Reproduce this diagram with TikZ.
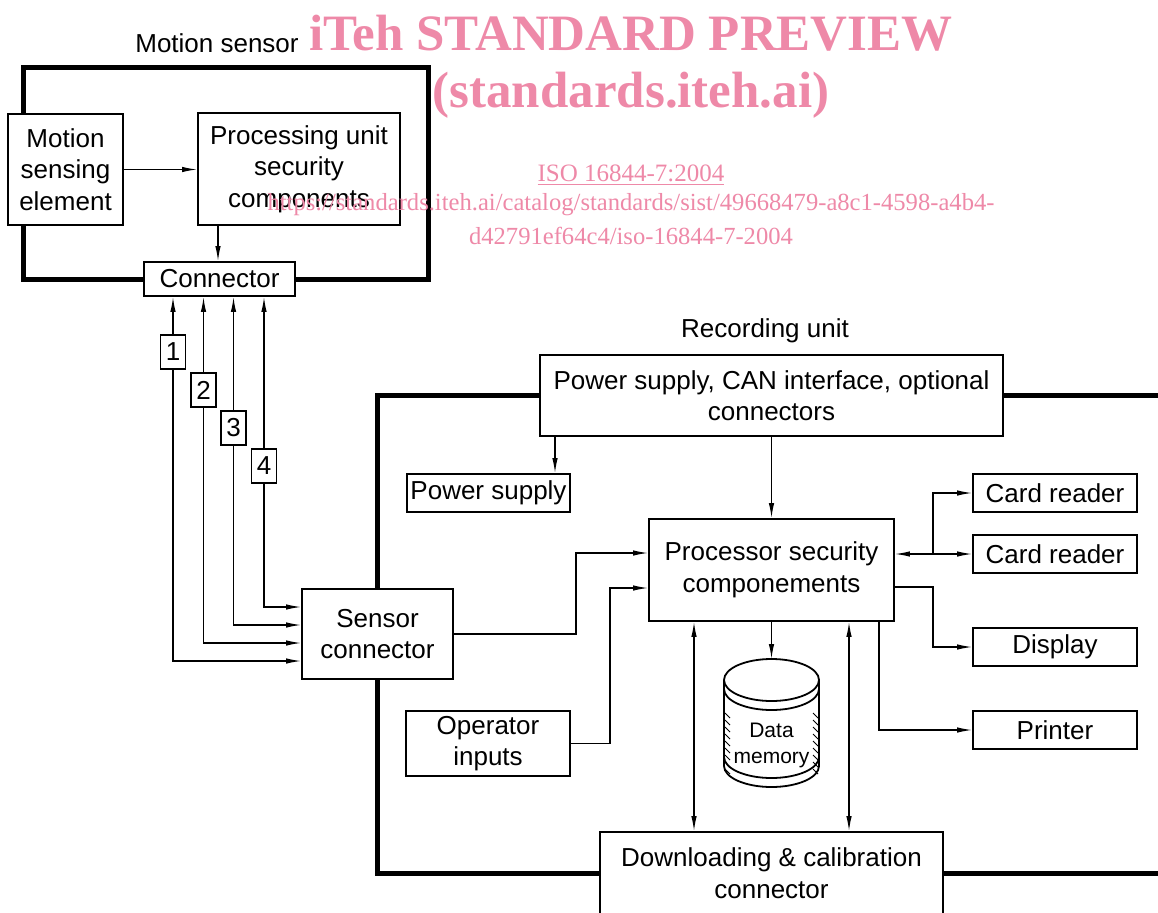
\documentclass[tikz,border=0pt]{standalone}
\usepackage{fontspec}
\setmainfont{Liberation Sans}
\newfontfamily\wmfont{Liberation Serif}
\usetikzlibrary{arrows.meta,calc}
\definecolor{wmpink}{RGB}{238,137,168}
\begin{document}
\begin{tikzpicture}[x=1pt,y=-1pt,
  lbl/.style={font=\fontsize{26}{31.5}\selectfont, align=center},
  blk/.style={lbl, draw, line width=1.8pt, inner sep=0pt, fill=white},
  numbox/.style={blk, minimum width=25pt, minimum height=34pt},
  wire/.style={line width=1.3pt},
  arr/.style={wire, -{Latex[length=15pt,width=5.5pt]}},
  arrs/.style={wire, {Latex[length=15pt,width=5.5pt]}-{Latex[length=15pt,width=5.5pt]}},
  frame/.style={line width=5pt},
  wm/.style={text=wmpink, inner sep=0pt, anchor=base},
]
\useasboundingbox (0,0) rectangle (1158,912);
\clip (0,0) rectangle (1158,912);

% ---------- motion sensor ----------
\node[lbl, anchor=base] (mstitle) at (217,53) {Motion sensor};
\node[blk, minimum width=115pt, minimum height=111pt] (mse) at (65.5,169.5) {Motion\\sensing\\element};
\node[blk, minimum width=202pt, minimum height=112pt] (pu) at (299,169) {Processing unit\\security\\components};
\node[blk, minimum width=151pt, minimum height=34pt] (conn) at (219.5,279) {Connector};

\coordinate (msTL) at (23,68);
\coordinate (msTR) at (428,68);
\draw[frame] (mse.north -| msTL) -- (msTL) -- (msTR) |- (conn.east);
\draw[frame] (conn.west) -| (mse.south -| msTL);

\draw[arr] (mse.east) -- (mse.east -| pu.west);
\coordinate (pux) at (218,0);
\draw[arr] (pu.south -| pux) -- (conn.north -| pux);

% ---------- recording unit ----------
\node[lbl, anchor=base] (rutitle) at (765,337) {Recording unit};
\node[blk, minimum width=463pt, minimum height=81pt] (pcan) at (771.5,395.5) {Power supply, CAN interface, optional\\connectors};
\node[blk, minimum width=151pt, minimum height=90pt] (sc) at (377.5,634) {Sensor\\connector};
\node[blk, minimum width=163pt, minimum height=38pt] (ps) at (488.5,493) {Power supply};
\node[blk, minimum width=245pt, minimum height=102pt] (proc) at (771.5,570) {Processor security\\componements};
\node[blk, minimum width=164pt, minimum height=38pt] (cr1) at (1055,493) {Card reader};
\node[blk, minimum width=164pt, minimum height=38pt] (cr2) at (1055,554) {Card reader};
\node[blk, minimum width=164pt, minimum height=38pt] (disp) at (1055,647) {Display};
\node[blk, minimum width=164pt, minimum height=38pt] (prn) at (1055,730) {Printer};
\node[blk, minimum width=164pt, minimum height=65pt] (op) at (488,743.5) {Operator\\inputs};
\node[blk, minimum width=343pt, minimum height=82pt] (dl) at (771.5,873) {Downloading \& calibration\\connector};

% housing outline of the recording unit
\coordinate (rr) at (1170,0);
\draw[frame] (pcan.west) -| (sc.north);
\draw[frame] (pcan.east) -- (pcan.east -| rr);
\draw[frame] (sc.south) |- (dl.west);
\draw[frame] (dl.east) -- (dl.east -| rr);

% data memory cylinder
\coordinate (dmtop) at (771.5,659);
\begin{scope}[line width=1.8pt]
  \draw[fill=white] (724,680) -- (724,766)
    arc[start angle=180, end angle=360, x radius=47.5pt, y radius=21pt] -- (819,680);
  \draw (771.5,680) ellipse [x radius=47.5pt, y radius=21pt];
  \draw (724,689) arc[start angle=180, end angle=360, x radius=47.5pt, y radius=21pt];
  \draw (724,757) arc[start angle=180, end angle=360, x radius=47.5pt, y radius=21pt];
\end{scope}
\foreach \y in {713,720,...,771} {
  \draw[line width=0.9pt] (725,\y) -- (730,\y+5);
  \draw[line width=0.9pt] (813,\y) -- (818,\y+5);
}
\node[font=\fontsize{21}{26}\selectfont, align=center, inner sep=0pt] (dm) at (771.5,745) {Data\\memory};

% ---------- signal lines 1..4 ----------
\coordinate (c1) at (173,352);
\coordinate (c2) at (203.5,390);
\coordinate (c3) at (233.5,428);
\coordinate (c4) at (264,466);
\draw[arrs] ([yshift=-27pt]sc.west) -| (conn.south -| c1);
\draw[arrs] ([yshift=-9pt]sc.west) -| (conn.south -| c2);
\draw[arrs] ([yshift=9pt]sc.west) -| (conn.south -| c3);
\draw[arrs] ([yshift=27pt]sc.west) -| (conn.south -| c4);
\node[numbox] (n1) at (c1) {1};
\node[numbox] (n2) at (c2) {2};
\node[numbox] (n3) at (c3) {3};
\node[numbox] (n4) at (c4) {4};

% ---------- recording unit connections ----------
\draw[arr] (sc.east) -- ++(122,0) |- ([yshift=17pt]proc.west);
\draw[arr] (op.east) -- ++(39,0) |- ([yshift=-18pt]proc.west);
\coordinate (psx) at (555,0);
\draw[arr] (pcan.south -| psx) -- (ps.north -| psx);
\draw[arr] (pcan.south) -- (proc.north);
\draw[arr] (proc.south) -- (dmtop);
\coordinate (l1) at (694,0);
\coordinate (l2) at (849,0);
\draw[arrs] (proc.south -| l1) -- (dl.north -| l1);
\draw[arrs] (proc.south -| l2) -- (dl.north -| l2);
\coordinate (jx) at (933,0);
\draw[arrs] (proc.east |- cr2.west) -- (cr2.west);
\draw[arr] (cr2.west -| jx) |- (cr1.west);
\draw[arr] ([yshift=-17pt]proc.east) -| (disp.west -| jx) -- (disp.west);
\coordinate (px) at (879,0);
\draw[arr] (proc.south -| px) |- (prn.west);

% ---------- preview stamp ----------
\node[wm, font=\wmfont\bfseries\fontsize{51}{51}\selectfont] (wm1) at (631,51) {iTeh STANDARD PREVIEW};
\node[wm, font=\wmfont\bfseries\fontsize{51}{51}\selectfont] (wm2) at (631,108) {(standards.iteh.ai)};
\node[wm, font=\wmfont\fontsize{25}{25}\selectfont] (wm3) at (631,182) {\underline{ISO 16844-7:2004}};
\node[wm, font=\wmfont\fontsize{24.6}{25}\selectfont] (wm4) at (631,211) {https://standards.iteh.ai/catalog/standards/sist/49668479-a8c1-4598-a4b4-};
\node[wm, font=\wmfont\fontsize{24.6}{25}\selectfont] (wm5) at (631,244) {d42791ef64c4/iso-16844-7-2004};
\end{tikzpicture}
\end{document}
